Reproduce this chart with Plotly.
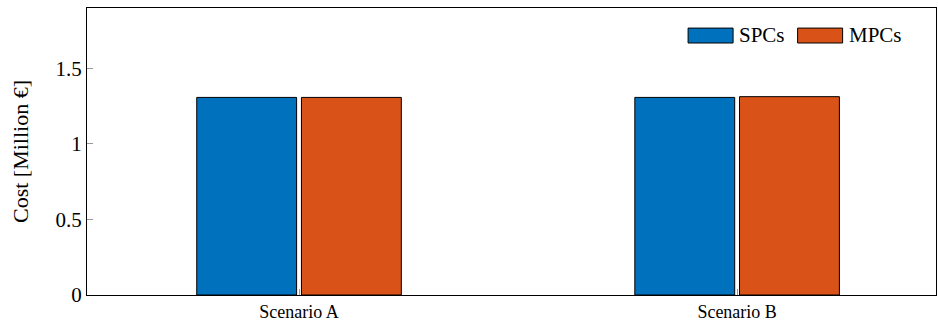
import plotly.graph_objects as go

categories = ["Scenario A", "Scenario B"]
series_names = ["SPCs", "MPCs"]
spc_values = [1.308, 1.308]
mpc_values = [1.308, 1.313]
y_tick_vals = [0, 0.5, 1, 1.5]
y_tick_text = ["0", "0.5", "1", "1.5"]
colors = ["#0072BD", "#D95319"]

xpos = list(range(len(categories)))
font_family = "Liberation Serif"

fig = go.Figure()
fig.add_trace(go.Bar(
    x=xpos, y=spc_values, name=series_names[0],
    marker=dict(color=colors[0], line=dict(color="black", width=1)),
    width=0.228, offset=-0.2335, showlegend=False,
))
fig.add_trace(go.Bar(
    x=xpos, y=mpc_values, name=series_names[1],
    marker=dict(color=colors[1], line=dict(color="black", width=1)),
    width=0.228, offset=0.0055, showlegend=False,
))

# custom legend (wide swatches like pgfplots ybar legend)
legend_swatch_x = [(0.708, 0.761), (0.837, 0.890)]
legend_text_x = [0.766, 0.895]
for (x0, x1), tx, name, col in zip(legend_swatch_x, legend_text_x, series_names, colors):
    fig.add_shape(type="rect", xref="paper", yref="paper",
                  x0=x0, x1=x1, y0=0.878, y1=0.930,
                  fillcolor=col, line=dict(color="black", width=1))
    fig.add_annotation(xref="paper", yref="paper", x=tx, y=0.905,
                       text=name, showarrow=False, xanchor="left", yanchor="middle",
                       font=dict(size=21))

fig.update_layout(
    width=938, height=324,
    margin=dict(l=87, r=2, t=8, b=29),
    plot_bgcolor="white", paper_bgcolor="white",
    font=dict(family=font_family, size=18, color="black"),
    showlegend=False,
    xaxis=dict(
        range=[-0.484, 1.454], tickvals=xpos, ticktext=categories,
        showline=True, linecolor="black", linewidth=1, mirror=True,
        ticks="inside", ticklen=6, tickcolor="#999999",
        showgrid=False, zeroline=False,
    ),
    yaxis=dict(
        range=[0, 1.9], tickvals=y_tick_vals, ticktext=y_tick_text,
        tickfont=dict(size=21),
        showline=True, linecolor="black", linewidth=1, mirror=True,
        ticks="inside", ticklen=6, tickcolor="#999999",
        showgrid=False, zeroline=False,
        title=dict(text="Cost [Million €]", standoff=20, font=dict(size=22)),
    ),
)

fig.write_html(
    "out.html",
    config={"displayModeBar": False},
    post_script="document.body.style.margin='0';document.body.style.overflow='hidden';",
)
